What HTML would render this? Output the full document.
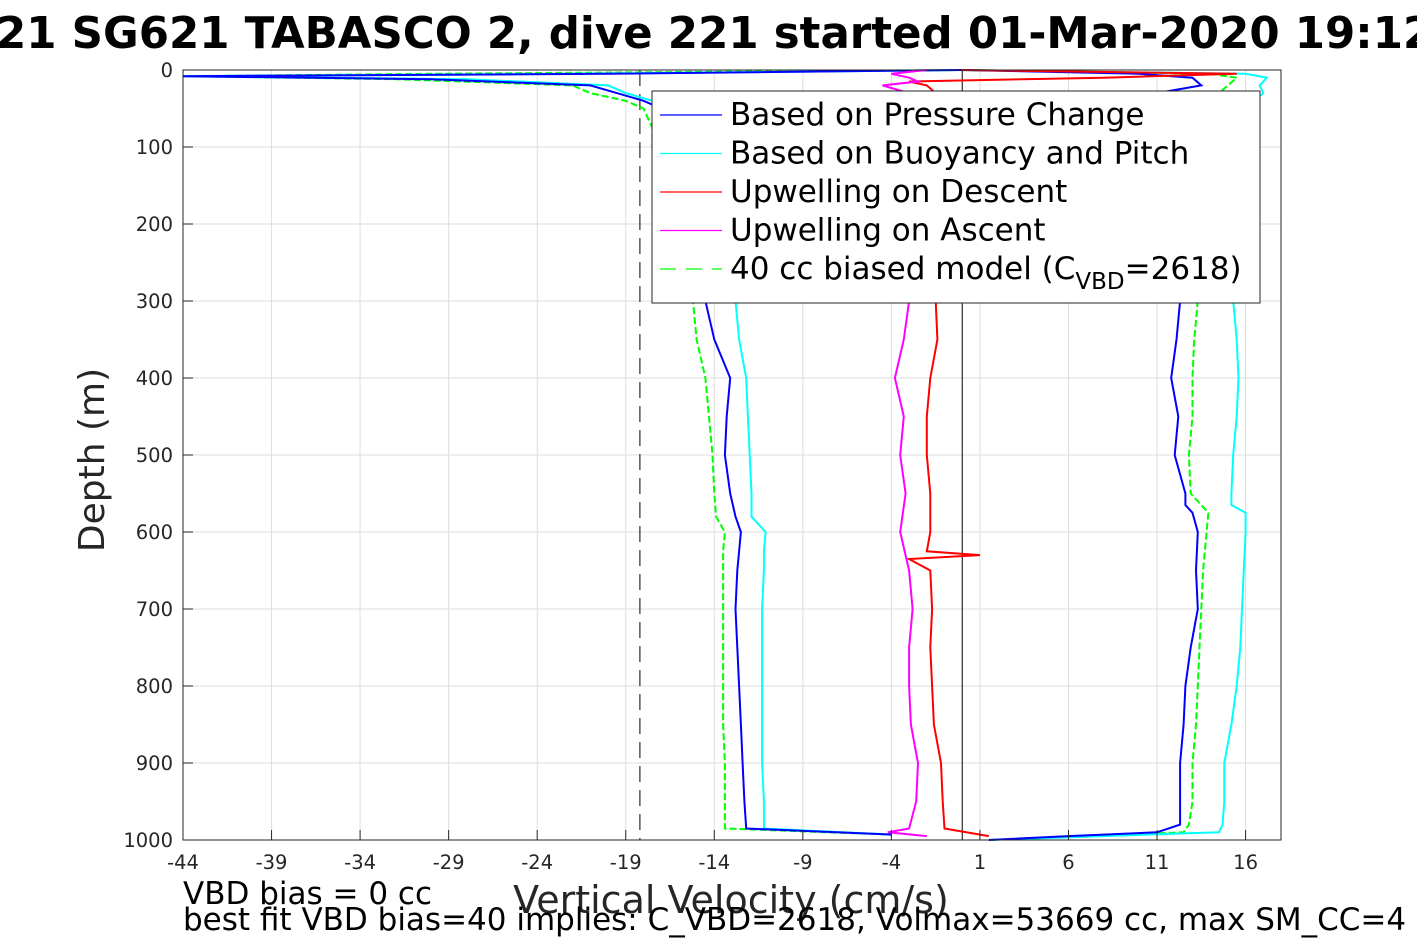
<!DOCTYPE html>
<html><head><meta charset="utf-8"><style>
html,body{margin:0;padding:0;background:#fff;width:1417px;height:945px;overflow:hidden}
svg{display:block;font-family:"DejaVu Sans","Liberation Sans",sans-serif}
</style></head><body>
<svg id="chart" width="1417" height="945" viewBox="0 0 1417 945">
<text x="-4" y="48" font-size="43.5" font-weight="bold" fill="#000">21 SG621 TABASCO 2, dive 221 started 01-Mar-2020 19:12</text>
<g id="grid"></g>
<g id="series"></g>
<rect x="183" y="70" width="1098" height="770" fill="none" stroke="#262626" stroke-width="1"/>
<g id="ticks"></g>
<text transform="translate(104,460) rotate(-90)" text-anchor="middle" font-size="36" fill="#262626">Depth (m)</text>
<text x="731" y="913" text-anchor="middle" font-size="38" fill="#262626">Vertical Velocity (cm/s)</text>
<text x="183" y="904" font-size="31" fill="#000">VBD bias = 0 cc</text>
<text x="183" y="930" font-size="31" fill="#000">best fit VBD bias=40 implies: C_VBD=2618, Volmax=53669 cc, max SM_CC=4</text>
<g id="legend">
<rect x="652" y="91" width="608" height="212" fill="#fff" stroke="#262626" stroke-width="1"/>
</g>
</svg>
<script>
const depthDesc = [0,5,8,12,20,30,40,50,75,100,150,200,250,300,350,400,450,500,550,580,600,625,650,700,750,800,850,900,950,985,993];
const bluePress = [0,-20,-44,-30,-21,-19.5,-18,-17,-16.5,-16,-15.5,-15,-14.8,-14.5,-14,-13.1,-13.3,-13.4,-13.1,-12.8,-12.5,-12.6,-12.7,-12.8,-12.7,-12.6,-12.5,-12.4,-12.3,-12.2,-4];
const cyanBuoy = [0,-22,-44,-28,-20,-19,-17.5,-16.8,-16.2,-15.5,-14.8,-14.2,-13.5,-12.8,-12.6,-12.2,-12.1,-12,-11.9,-11.9,-11.1,-11.2,-11.2,-11.3,-11.3,-11.3,-11.3,-11.3,-11.2,-11.2,-4];
const greenModel = [0,-30,-44,-32,-22,-21,-19,-18,-17.5,-17.5,-17,-16.5,-16,-15.2,-15,-14.5,-14.3,-14.1,-14,-13.9,-13.4,-13.5,-13.5,-13.5,-13.5,-13.5,-13.5,-13.4,-13.4,-13.4,-4];
const depthAsc = [1000,995,990,980,950,900,850,800,750,700,650,600,575,565,550,500,450,400,350,300,250,200,150,100,60,40,30,20,10,5,0];
const blueAsc = [1.5,6,11,12.3,12.3,12.3,12.5,12.6,12.9,13.3,13.2,13.3,13.0,12.6,12.6,12,12.2,11.8,12.1,12.3,12.4,12.5,12.6,12.8,13,12.5,11,13.5,13,10,0];
const cyanAsc = [1.5,8,14.5,14.7,14.8,14.8,15.2,15.5,15.7,15.8,15.9,16,16,15.2,15.2,15.3,15.5,15.6,15.5,15.3,15.4,15.5,15.6,15.8,16,16.5,17,16.8,17.2,16,0];
const greenAsc = [1.5,7,12.5,12.8,13,13,13.2,13.3,13.4,13.5,13.6,13.8,13.9,13.5,12.9,12.8,13,13,13.1,13.3,13.4,13.5,13.6,13.8,14,14.2,14.5,15,15.5,14,0];
const depthUp = [0,5,10,15,20,30,40,60,100,200,300,350,400,450,500,550,600,625,630,635,650,700,750,800,850,900,950,985,995];
const redUp = [0,15.5,8,-3,-2,-1.5,-1,-1.2,-1.4,-1.5,-1.5,-1.4,-1.8,-2,-2,-1.8,-1.8,-2,1,-3,-1.8,-1.7,-1.8,-1.7,-1.6,-1.2,-1.1,-1,1.5];
const depthMag = [0,5,10,15,20,30,40,60,100,200,300,350,400,450,500,550,600,650,700,750,800,850,900,950,985,990,995];
const magentaUp = [-2,-4,-3,-2.5,-4.5,-3,-2,-2.5,-3,-3,-3,-3.3,-3.8,-3.3,-3.5,-3.2,-3.5,-3,-2.8,-3,-3,-2.9,-2.5,-2.6,-3,-4.2,-2];
const xTicks = [-44,-39,-34,-29,-24,-19,-14,-9,-4,1,6,11,16];
const yTicks = [0,100,200,300,400,500,600,700,800,900,1000];
const dashedRef = -18.2;
const NS = "http://www.w3.org/2000/svg";
const X0=183, X1=1281, Y0=70, Y1=840, XMIN=-44, XMAX=18, YMIN=0, YMAX=1000;
const sx = v => X0 + (v - XMIN) / (XMAX - XMIN) * (X1 - X0);
const sy = d => Y0 + (d - YMIN) / (YMAX - YMIN) * (Y1 - Y0);
function mk(tag, attrs, parent){const e=document.createElementNS(NS,tag);for(const k in attrs)e.setAttribute(k,attrs[k]);parent.appendChild(e);return e;}
const grid=document.getElementById('grid'), ticks=document.getElementById('ticks'), series=document.getElementById('series'), legend=document.getElementById('legend');
xTicks.forEach(t=>{
  const g=mk('line',{x1:sx(t),x2:sx(t),y1:Y0,y2:Y1,stroke:'#dedede','stroke-width':1},grid);
  
  
  const tk=mk('line',{x1:sx(t),x2:sx(t),y1:Y1,y2:Y1-10,stroke:'#262626'},ticks);
  
  
  const tx=mk('text',{x:sx(t),y:Y1+29,'text-anchor':'middle','font-size':19.5,fill:'#262626'},ticks);
  tx.textContent=t;
  
  
});
yTicks.forEach(t=>{
  const g=mk('line',{x1:X0,x2:X1,y1:sy(t),y2:sy(t),stroke:'#dedede','stroke-width':1},grid);
  
  
  const tk=mk('line',{x1:X0,x2:X0+10,y1:sy(t),y2:sy(t),stroke:'#262626'},ticks);
  
  
  const tx=mk('text',{x:X0-10,y:sy(t)+7,'text-anchor':'end','font-size':19.5,fill:'#262626'},ticks);
  tx.textContent=t;
  
  
});
const dl=mk('line',{x1:sx(dashedRef),x2:sx(dashedRef),y1:Y0,y2:Y1,stroke:'#000','stroke-dasharray':'16,8'},series);


const zl=mk('line',{x1:sx(0),x2:sx(0),y1:Y0,y2:Y1,stroke:'#000'},series);


function line(vals,depths,color,dash,name){
  const pts=vals.map((v,i)=>sx(v).toFixed(1)+','+sy(depths[i]).toFixed(1)).join(' ');
  const p=mk('polyline',{points:pts,fill:'none',stroke:color,'stroke-width':2},series);
  if(dash)p.setAttribute('stroke-dasharray',dash);
  
  
}
line(greenModel,depthDesc,'#00ff00','7,3','model-descent-line');
line(cyanBuoy,depthDesc,'#00ffff',null,'buoyancy-descent-line');
line(bluePress,depthDesc,'#0000ff',null,'pressure-descent-line');
line(greenAsc,depthAsc,'#00ff00','7,3','model-ascent-line');
line(cyanAsc,depthAsc,'#00ffff',null,'buoyancy-ascent-line');
line(blueAsc,depthAsc,'#0000ff',null,'pressure-ascent-line');
line(redUp,depthUp,'#ff0000',null,'upwelling-descent-line');
line(magentaUp,depthMag,'#ff00ff',null,'upwelling-ascent-line');
const legItems=[['Based on Pressure Change','#0000ff',null],['Based on Buoyancy and Pitch','#00ffff',null],['Upwelling on Descent','#ff0000',null],['Upwelling on Ascent','#ff00ff',null],['40 cc biased model (C','#00ff00','16,10']];
legItems.forEach((it,i)=>{
  const y=115+i*38.5;
  const l=mk('line',{x1:660,x2:722,y1:y,y2:y,stroke:it[1],'stroke-width':1.2},legend);
  if(it[2])l.setAttribute('stroke-dasharray',it[2]);
  
  
  const t=mk('text',{x:730,y:y+10,'font-size':31,fill:'#000'},legend);
  t.textContent=it[0];
  if(i===4){
    const s1=mk('tspan',{dy:10,'font-size':23},t);s1.textContent='VBD';
    const s2=mk('tspan',{dy:-10},t);s2.textContent='=2618)';
  }
  
  
});
</script>
</body></html>
